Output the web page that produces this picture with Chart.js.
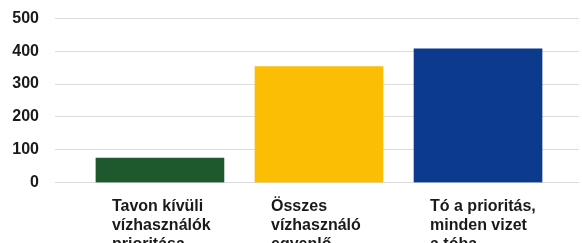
<!DOCTYPE html>
<html>
<head>
<meta charset="utf-8">
<script src="https://cdn.jsdelivr.net/npm/chart.js@4.4.1/dist/chart.umd.min.js"></script>
<style>
  html, body { margin: 0; padding: 0; background: #ffffff; }
  #wrap { width: 582px; height: 243px; position: relative; }
</style>
</head>
<body>
<div id="wrap"><canvas id="c"></canvas></div>
<script>
const categories = [
  ["Tavon kívüli", "vízhasználók", "prioritása"],
  ["Összes", "vízhasználó", "egyenlő"],
  ["Tó a prioritás,", "minden vizet", "a tóba"]
];
const values = [75, 353, 407];
const barColors = ["#1d592d", "#fbbe04", "#0c3b8d"];
const yTicks = [0, 100, 200, 300, 400, 500];

const points = values.map((v, i) => ({ x: i + 1, y: v }));

function noPad(axis) {
  axis.paddingTop = 0; axis.paddingBottom = 0;
  axis.paddingLeft = 0; axis.paddingRight = 0;
}

new Chart(document.getElementById('c'), {
  type: 'bar',
  data: {
    datasets: [{
      data: points,
      backgroundColor: barColors,
      borderWidth: 0,
      barThickness: 128
    }]
  },
  options: {
    responsive: true,
    maintainAspectRatio: false,
    animation: false,
    layout: { padding: { top: 18.3, right: 3, left: 0, bottom: 0 } },
    plugins: { legend: { display: false }, tooltip: { enabled: false } },
    scales: {
      x: {
        type: 'linear',
        offset: false,
        min: 0.34,
        max: 3.635,
        grid: { display: false, offset: false },
        border: { display: false },
        afterBuildTicks: (axis) => { axis.ticks = categories.map((c, i) => ({ value: i + 1 })); },
        afterFit: (axis) => { axis.height = 60.3; noPad(axis); },
        ticks: {
          autoSkip: false,
          maxRotation: 0,
          align: 'start',
          labelOffset: -48,
          padding: 6,
          color: '#1a1a1a',
          font: { family: 'Liberation Sans, Arial, sans-serif', size: 16, weight: 'bold', lineHeight: 1.1875 },
          callback: (v) => categories[Math.round(v) - 1]
        }
      },
      y: {
        min: 0,
        max: 500,
        afterBuildTicks: (axis) => { axis.ticks = yTicks.map(v => ({ value: v })); },
        afterFit: (axis) => { axis.width = 55; noPad(axis); },
        grid: { color: '#dcdcdc', lineWidth: 1, drawTicks: false },
        border: { display: false },
        ticks: {
          padding: 16,
          color: '#1a1a1a',
          font: { family: 'Liberation Sans, Arial, sans-serif', size: 16, weight: 'bold' }
        }
      }
    }
  }
});
</script>
</body>
</html>
